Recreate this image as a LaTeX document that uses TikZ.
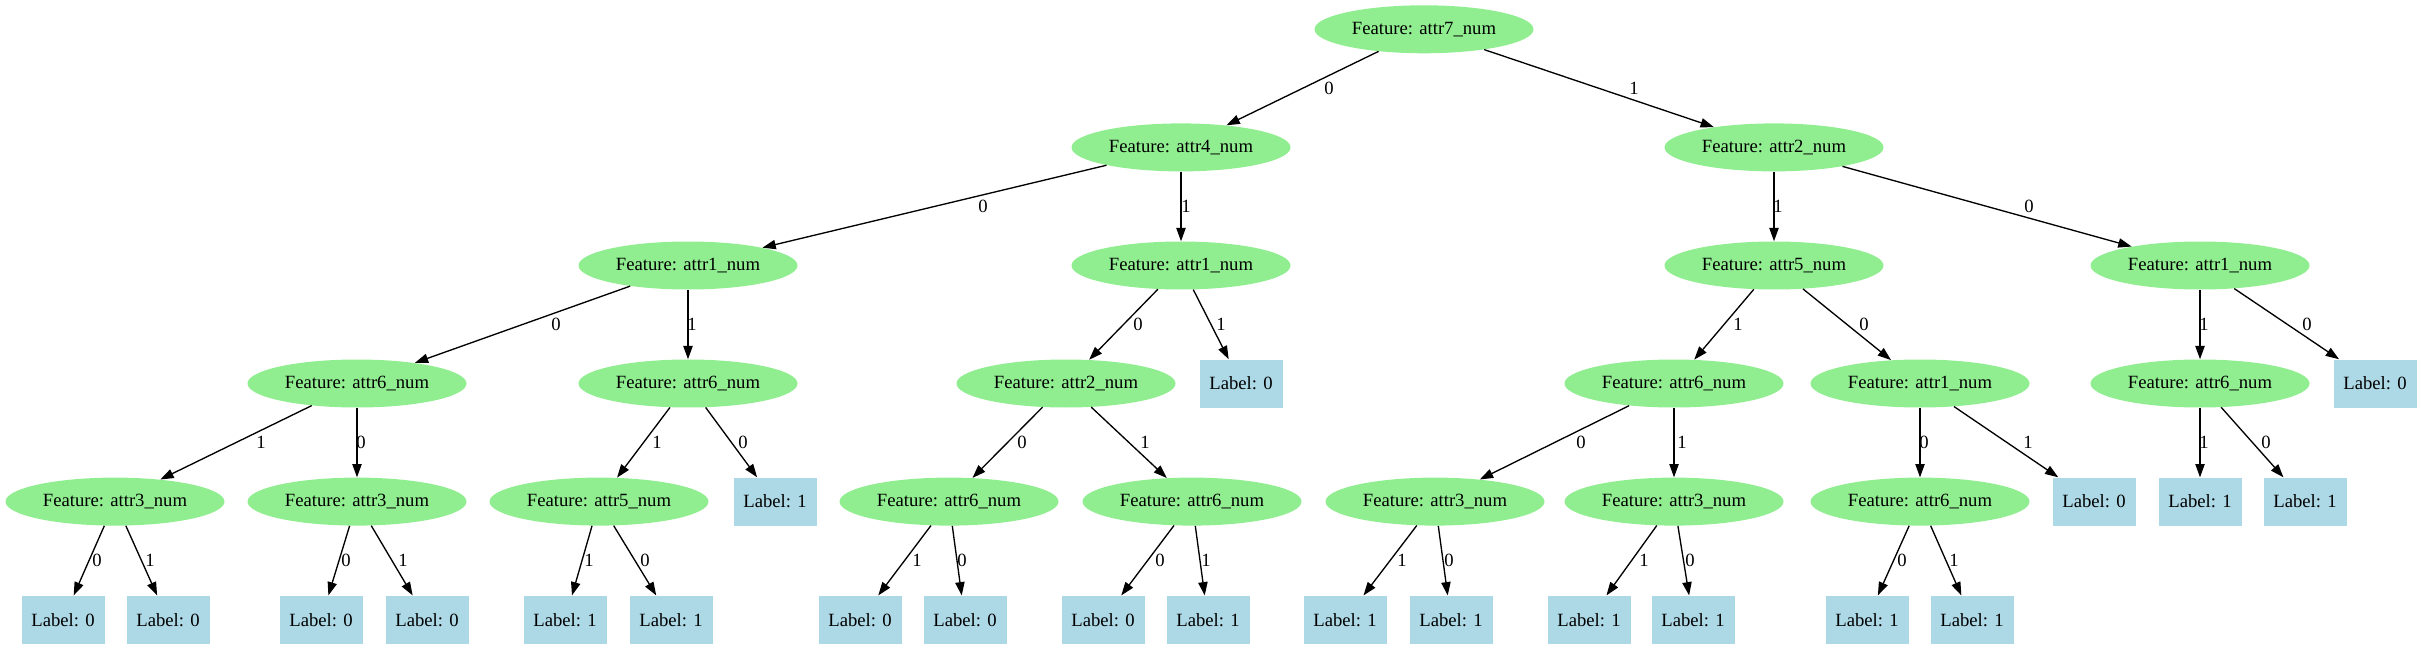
\documentclass[tikz,border=0pt]{standalone}
\usepackage{fontspec}
\setmainfont{Liberation Serif}
\usetikzlibrary{shapes.geometric,arrows.meta}
\definecolor{featgreen}{HTML}{90EE90}
\definecolor{leafblue}{HTML}{ADD8E6}
\begin{document}
\begin{tikzpicture}[x=0.75pt,y=-0.75pt,
  feat/.style={ellipse,fill=featgreen,minimum width=164.25pt,minimum height=36pt,inner sep=0pt,font=\fontsize{14}{16}\selectfont},
  leaf/.style={rectangle,fill=leafblue,minimum width=62.25pt,minimum height=36pt,inner sep=0pt,font=\fontsize{14}{16}\selectfont},
  edge/.style={draw=black,line width=1pt,-{Triangle[length=10pt,width=7pt]}},
  elbl/.style={font=\fontsize{14}{16}\selectfont,inner sep=0pt}]
\useasboundingbox (0,0) rectangle (2421,649);
% level 0
\node[feat] (A) at (1424,29.3) {Feature: attr7\_num};
% level 1
\node[feat] (B) at (1181,147.4) {Feature: attr4\_num};
\node[feat] (C) at (1774,147.4) {Feature: attr2\_num};
% level 2
\node[feat] (D) at (688,265.5) {Feature: attr1\_num};
\node[feat] (E) at (1181,265.5) {Feature: attr1\_num};
\node[feat] (F) at (1774,265.5) {Feature: attr5\_num};
\node[feat] (G) at (2200,265.5) {Feature: attr1\_num};
% level 3
\node[feat] (H) at (357,383.5) {Feature: attr6\_num};
\node[feat] (I) at (688,383.5) {Feature: attr6\_num};
\node[feat] (J) at (1066,383.5) {Feature: attr2\_num};
\node[leaf] (K) at (1241,383.5) {Label: 0};
\node[feat] (L) at (1674,383.5) {Feature: attr6\_num};
\node[feat] (M) at (1920,383.5) {Feature: attr1\_num};
\node[feat] (N) at (2200,383.5) {Feature: attr6\_num};
\node[leaf] (O) at (2375,383.5) {Label: 0};
% level 4
\node[feat] (P) at (115,501.6) {Feature: attr3\_num};
\node[feat] (Q) at (357,501.6) {Feature: attr3\_num};
\node[feat] (R) at (599,501.6) {Feature: attr5\_num};
\node[leaf] (S) at (775,501.6) {Label: 1};
\node[feat] (T) at (949,501.6) {Feature: attr6\_num};
\node[feat] (U) at (1192,501.6) {Feature: attr6\_num};
\node[feat] (V) at (1435,501.6) {Feature: attr3\_num};
\node[feat] (W) at (1674,501.6) {Feature: attr3\_num};
\node[feat] (X) at (1920,501.6) {Feature: attr6\_num};
\node[leaf] (Y) at (2094,501.6) {Label: 0};
\node[leaf] (Z) at (2200,501.6) {Label: 1};
\node[leaf] (AA) at (2305,501.6) {Label: 1};
% level 5
\node[leaf] (P0) at (63,619.7) {Label: 0};
\node[leaf] (P1) at (168,619.7) {Label: 0};
\node[leaf] (Q0) at (321,619.7) {Label: 0};
\node[leaf] (Q1) at (427,619.7) {Label: 0};
\node[leaf] (R1) at (565,619.7) {Label: 1};
\node[leaf] (R0) at (671,619.7) {Label: 1};
\node[leaf] (T1) at (860,619.7) {Label: 0};
\node[leaf] (T0) at (965,619.7) {Label: 0};
\node[leaf] (U0) at (1103,619.7) {Label: 0};
\node[leaf] (U1) at (1208,619.7) {Label: 1};
\node[leaf] (V1) at (1345,619.7) {Label: 1};
\node[leaf] (V0) at (1451,619.7) {Label: 1};
\node[leaf] (W1) at (1589,619.7) {Label: 1};
\node[leaf] (W0) at (1693,619.7) {Label: 1};
\node[leaf] (X0) at (1867,619.7) {Label: 1};
\node[leaf] (X1) at (1972,619.7) {Label: 1};
% edges
\draw[edge] (A) -- (B); \draw[edge] (A) -- (C);
\draw[edge] (B) -- (D); \draw[edge] (B) -- (E);
\draw[edge] (C) -- (F); \draw[edge] (C) -- (G);
\draw[edge] (D) -- (H); \draw[edge] (D) -- (I);
\draw[edge] (E) -- (J); \draw[edge] (E) -- (K);
\draw[edge] (F) -- (L); \draw[edge] (F) -- (M);
\draw[edge] (G) -- (N); \draw[edge] (G) -- (O);
\draw[edge] (H) -- (P); \draw[edge] (H) -- (Q);
\draw[edge] (I) -- (R); \draw[edge] (I) -- (S);
\draw[edge] (J) -- (T); \draw[edge] (J) -- (U);
\draw[edge] (L) -- (V); \draw[edge] (L) -- (W);
\draw[edge] (M) -- (X); \draw[edge] (M) -- (Y);
\draw[edge] (N) -- (Z); \draw[edge] (N) -- (AA);
\draw[edge] (P) -- (P0); \draw[edge] (P) -- (P1);
\draw[edge] (Q) -- (Q0); \draw[edge] (Q) -- (Q1);
\draw[edge] (R) -- (R1); \draw[edge] (R) -- (R0);
\draw[edge] (T) -- (T1); \draw[edge] (T) -- (T0);
\draw[edge] (U) -- (U0); \draw[edge] (U) -- (U1);
\draw[edge] (V) -- (V1); \draw[edge] (V) -- (V0);
\draw[edge] (W) -- (W1); \draw[edge] (W) -- (W0);
\draw[edge] (X) -- (X0); \draw[edge] (X) -- (X1);
% edge labels
\node[elbl] (lAB) at (1329,88.4) {0};
\node[elbl] (lAC) at (1634,88.4) {1};
\node[elbl] (lBD) at (983,206.5) {0};
\node[elbl] (lBE) at (1186,206.5) {1};
\node[elbl] (lCF) at (1778,206.5) {1};
\node[elbl] (lCG) at (2029,206.5) {0};
\node[elbl] (lDH) at (556,324.5) {0};
\node[elbl] (lDI) at (692,324.5) {1};
\node[elbl] (lEJ) at (1138,324.5) {0};
\node[elbl] (lEK) at (1221,324.5) {1};
\node[elbl] (lFL) at (1738,324.5) {1};
\node[elbl] (lFM) at (1864,324.5) {0};
\node[elbl] (lGN) at (2204,324.5) {1};
\node[elbl] (lGO) at (2307,324.5) {0};
\node[elbl] (lHP) at (261,442.6) {1};
\node[elbl] (lHQ) at (361,442.6) {0};
\node[elbl] (lIR) at (657,442.6) {1};
\node[elbl] (lIS) at (743,442.6) {0};
\node[elbl] (lJT) at (1022,442.6) {0};
\node[elbl] (lJU) at (1145,442.6) {1};
\node[elbl] (lLV) at (1581,442.6) {0};
\node[elbl] (lLW) at (1682,442.6) {1};
\node[elbl] (lMX) at (1924,442.6) {0};
\node[elbl] (lMY) at (2028,442.6) {1};
\node[elbl] (lNZ) at (2204,442.6) {1};
\node[elbl] (lNAA) at (2266,442.6) {0};
\node[elbl] (lP0) at (97,560.7) {0};
\node[elbl] (lP1) at (150,560.7) {1};
\node[elbl] (lQ0) at (346,560.7) {0};
\node[elbl] (lQ1) at (403,560.7) {1};
\node[elbl] (lR1) at (589,560.7) {1};
\node[elbl] (lR0) at (645,560.7) {0};
\node[elbl] (lT1) at (917,560.7) {1};
\node[elbl] (lT0) at (962,560.7) {0};
\node[elbl] (lU0) at (1160,560.7) {0};
\node[elbl] (lU1) at (1206,560.7) {1};
\node[elbl] (lV1) at (1402,560.7) {1};
\node[elbl] (lV0) at (1449,560.7) {0};
\node[elbl] (lW1) at (1644,560.7) {1};
\node[elbl] (lW0) at (1690,560.7) {0};
\node[elbl] (lX0) at (1902,560.7) {0};
\node[elbl] (lX1) at (1954,560.7) {1};
\end{tikzpicture}
\end{document}
